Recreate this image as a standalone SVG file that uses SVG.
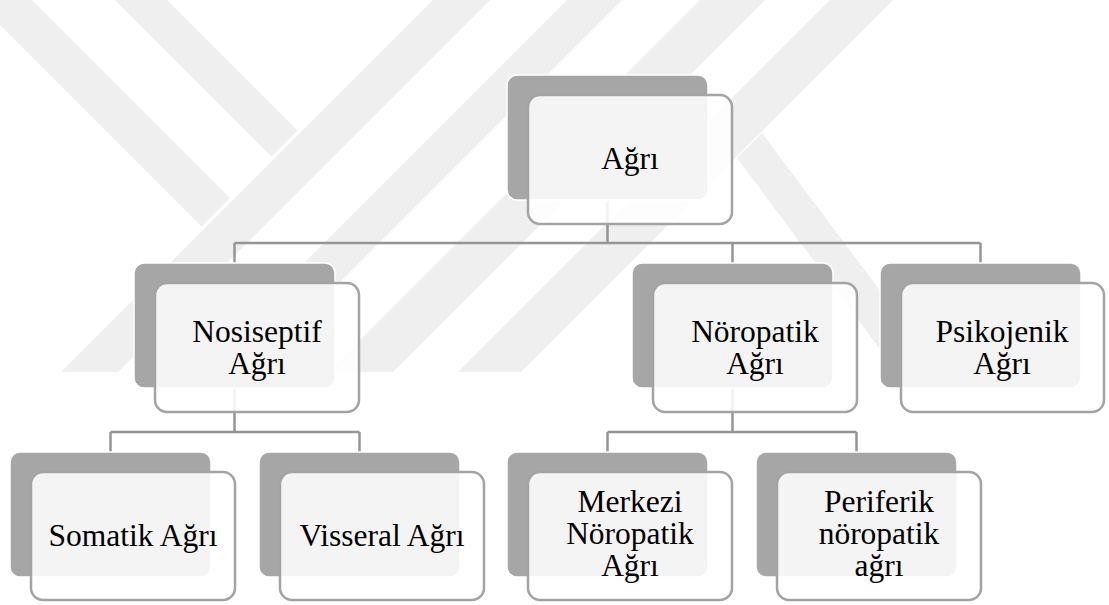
<svg xmlns="http://www.w3.org/2000/svg" width="1109" height="605" viewBox="0 0 1109 605">
<style>
.wm{fill:#efefef}
.back{fill:#a6a6a6;stroke:#ffffff;stroke-width:1.5}
.front{fill:#ffffff;fill-opacity:0.88;stroke:#a3a3a3;stroke-width:2.5}
.conn{fill:none;stroke:#959595;stroke-width:2.5}
.lbl{font-size:31.5px;fill:#000;text-anchor:middle}
</style>
<rect x="0" y="0" width="1109" height="605" fill="#ffffff"/>
<g id="watermark">
<polygon class="wm" points="0,0 32,0 230,198 201.5,226.5 0,25"/>
<polygon class="wm" points="115,0 167,0 297.5,130.5 271.5,156.5"/>
<polygon class="wm" points="433,0 490,0 118,372 61,372"/>
<polygon class="wm" points="567,0 622,0 250,372 195,372"/>
<polygon class="wm" points="700,0 765,0 393,372 328,372"/>
<polygon class="wm" points="830,0 893,0 521,372 458,372"/>
<polygon class="wm" points="762,133 941,372 897,372 737,158"/>
</g>
<g id="connectors">
<path class="conn" d="M607.5,200 V243 M234.5,243 H980.5 M234.5,243 V263 M732.5,243 V263 M980.5,243 V263"/>
<path class="conn" d="M234.5,388 V432 M110.5,432 H359.5 M110.5,432 V452 M359.5,432 V452"/>
<path class="conn" d="M732.5,388 V432 M607.5,432 H856.5 M607.5,432 V452 M856.5,432 V452"/>
</g>
<g font-family="Liberation Serif, Tinos, Times New Roman, DejaVu Serif, serif">
<g id="node-agri">
<rect class="back" x="507" y="75" width="201" height="125" rx="10"/>
<rect class="front" x="528" y="95" width="204" height="129" rx="12"/>
<text class="lbl" x="630" y="169">Ağrı</text>
</g>
<g id="node-nosiseptif">
<rect class="back" x="134" y="263" width="201" height="125" rx="10"/>
<rect class="front" x="155" y="283" width="204" height="129" rx="12"/>
<text class="lbl" x="257" y="342">Nosiseptif</text>
<text class="lbl" x="257" y="374">Ağrı</text>
</g>
<g id="node-noropatik">
<rect class="back" x="632" y="263" width="201" height="125" rx="10"/>
<rect class="front" x="653" y="283" width="204" height="129" rx="12"/>
<text class="lbl" x="755" y="342">Nöropatik</text>
<text class="lbl" x="755" y="374">Ağrı</text>
</g>
<g id="node-psikojenik">
<rect class="back" x="880" y="263" width="201" height="125" rx="10"/>
<rect class="front" x="901" y="283" width="203" height="129" rx="12"/>
<text class="lbl" x="1002" y="342">Psikojenik</text>
<text class="lbl" x="1002" y="374">Ağrı</text>
</g>
<g id="node-somatik">
<rect class="back" x="10" y="452" width="201" height="125" rx="10"/>
<rect class="front" x="31" y="472" width="204" height="128" rx="12"/>
<text class="lbl" x="133" y="546">Somatik Ağrı</text>
</g>
<g id="node-visseral">
<rect class="back" x="259" y="452" width="201" height="125" rx="10"/>
<rect class="front" x="280" y="472" width="204" height="128" rx="12"/>
<text class="lbl" x="382" y="546">Visseral Ağrı</text>
</g>
<g id="node-merkezi">
<rect class="back" x="507" y="452" width="201" height="125" rx="10"/>
<rect class="front" x="528" y="472" width="204" height="128" rx="12"/>
<text class="lbl" x="630" y="512">Merkezi</text>
<text class="lbl" x="630" y="544">Nöropatik</text>
<text class="lbl" x="630" y="576">Ağrı</text>
</g>
<g id="node-periferik">
<rect class="back" x="756" y="452" width="201" height="125" rx="10"/>
<rect class="front" x="777" y="472" width="204" height="128" rx="12"/>
<text class="lbl" x="879" y="512">Periferik</text>
<text class="lbl" x="879" y="544">nöropatik</text>
<text class="lbl" x="879" y="576">ağrı</text>
</g>
</g>
</svg>
